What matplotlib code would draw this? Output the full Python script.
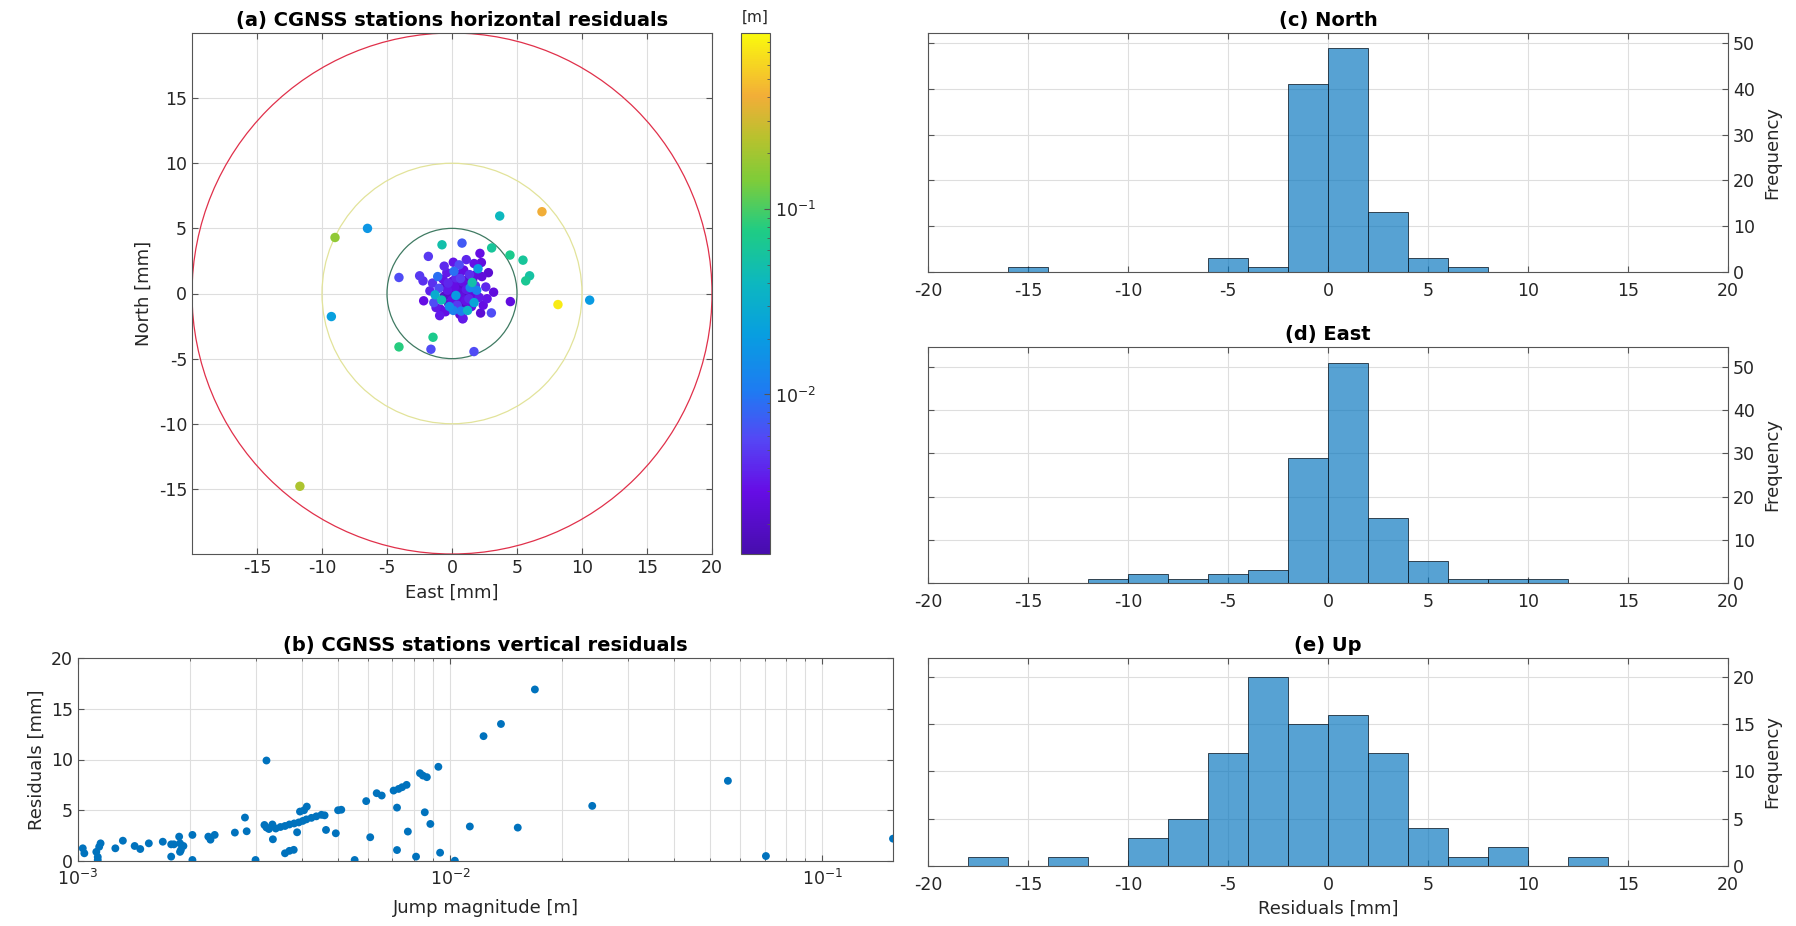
import numpy as np
import matplotlib
matplotlib.use("Agg")
import matplotlib.pyplot as plt
from matplotlib.colors import LinearSegmentedColormap, LogNorm
from matplotlib.patches import Circle
from matplotlib.ticker import FixedLocator, LogLocator, NullFormatter

plt.rcParams['font.family'] = ['DejaVu Sans']
plt.rcParams['axes.unicode_minus'] = False

# ---------------- data ----------------
# (a) horizontal residuals [mm] and jump magnitude [m]
east = [6.92, 3.67, -6.5, -9.0, -0.77, 0.77, 3.05, 4.46, 5.46, 5.97, 5.67, -1.82, 2.15, 2.26,
        -4.08, -2.49, -2.23, 8.15, 10.59, -9.28, -2.18, -1.23, 4.49, 3.03, 0.82, -1.46, -4.08,
        -1.62, 1.69, -11.7,
        0.2, 0.5, -0.3, 0.8, 1.1, -0.6, 0.0, 0.4, 1.3, -1.0, -1.3, -0.8, 0.6, 0.9, 0.3, -0.4,
        1.6, 1.8, 1.5, 0.1, -0.2, 0.7, 1.0, 0.25, -0.1, 0.45, 1.25, 0.75, 2.3, 2.6, 2.1, 2.4,
        3.2, 2.8, 2.0, -1.5, -1.1, -0.7, -1.7, -0.5, 0.6, 1.2, 1.7, 0.9, 0.35, -0.25, 1.45,
        0.05, 0.55, 1.1, 0.1, -0.6, 1.7, 1.9, 0.15, 0.85, -0.9, 1.35, 0.65, -0.15, 0.95, 1.65,
        0.3, -0.35, 1.55, 2.2, 1.05, 0.45, -1.4, -0.95, 0.75, 0.2, 1.2, 0.55, -0.05, 1.85,
        0.7, -0.55, 1.4, 0.1, 2.7, 0.95]
north = [6.28, 5.95, 5.0, 4.3, 3.74, 3.87, 3.5, 2.95, 2.56, 1.36, 0.97, 2.85, 3.08, 2.38,
         1.23, 1.36, 0.97, -0.85, -0.51, -1.77, -0.56, -1.08, -0.62, -1.49, -1.95, -3.36, -4.1,
         -4.28, -4.46, -14.8,
         0.5, 0.1, 0.8, 0.9, 0.3, -0.2, -0.5, -0.9, -0.4, 0.4, -0.1, -0.5, 1.5, 1.8, 1.2, 1.6,
         1.1, 0.6, -1.0, -1.3, -1.0, -0.3, 1.0, 0.2, 0.1, 0.75, 0.7, 0.45, 1.3, 0.5, -0.3, -0.9,
         0.1, 1.6, 1.9, 0.8, 1.3, 1.1, 0.2, -1.4, -1.6, -1.3, -0.7, -0.8, -0.4, -0.8, 0.15,
         0.95, 2.2, 2.6, 2.4, 2.1, 2.3, 0.25, 1.7, -1.9, -1.2, 1.45, 1.15, 0.45, -0.05, -0.15,
         -0.15, 0.25, 0.85, -1.5, -0.55, -1.15, -0.7, -1.7, 0.05, -0.7, -0.85, 0.35, -0.25, 1.45,
         -1.35, 0.55, 0.45, 0.7, -0.4, 0.6]
jump_h = [0.40, 0.04, 0.018, 0.17, 0.05, 0.007, 0.06, 0.07, 0.06, 0.055, 0.065, 0.005, 0.003, 0.0028,
          0.006, 0.005, 0.0045, 0.75, 0.02, 0.022, 0.003, 0.0035, 0.0028, 0.006, 0.0032, 0.07, 0.08,
          0.006, 0.006, 0.22,
          0.003, 0.0025, 0.004, 0.003, 0.0035, 0.002, 0.003, 0.005, 0.004, 0.006, 0.03, 0.045,
          0.0025, 0.003, 0.004, 0.0035, 0.002, 0.005, 0.003, 0.012, 0.015, 0.0028, 0.0022, 0.0018,
          0.0016, 0.002, 0.0024, 0.0021, 0.0026, 0.004, 0.0035, 0.003, 0.0027, 0.0023, 0.02, 0.0045,
          0.009, 0.0032, 0.0038, 0.003, 0.0025, 0.035, 0.025, 0.0019, 0.0017, 0.0022, 0.0021,
          0.0026, 0.006, 0.004, 0.0033, 0.0041, 0.0031, 0.012, 0.009, 0.0036, 0.0029, 0.0044,
          0.0052, 0.0023, 0.0018, 0.0027, 0.02, 0.0034, 0.05, 0.0024, 0.0031, 0.0026, 0.006,
          0.0035, 0.0015, 0.0019, 0.0022, 0.0017, 0.0021, 0.0028, 0.011, 0.0024, 0.013, 0.0029,
          0.0033, 0.002]
circle_radii = [5, 10, 20]
circle_colors = ['#3f7a62', '#e2e39a', '#e0304a']
cbar_range = [0.00138, 0.89]

# (b) vertical residuals
jump_v = [1.03e-3, 1.04e-3, 1.12e-3, 1.13e-3, 1.13e-3, 1.14e-3, 1.15e-3, 1.26e-3, 1.32e-3,
          1.42e-3, 1.47e-3, 1.55e-3, 1.69e-3, 1.78e-3, 1.78e-3, 1.81e-3, 1.87e-3, 1.88e-3,
          1.89e-3, 1.92e-3, 1.88e-3, 2.03e-3, 2.03e-3, 2.24e-3, 2.27e-3, 2.33e-3, 2.64e-3,
          2.81e-3, 2.84e-3, 3.0e-3, 3.21e-3, 3.17e-3, 3.21e-3, 3.26e-3, 3.33e-3, 3.40e-3, 3.50e-3,
          3.60e-3, 3.70e-3, 3.81e-3, 3.92e-3, 4.02e-3, 4.11e-3, 4.24e-3, 4.37e-3, 4.51e-3, 4.60e-3,
          3.34e-3, 3.6e-3, 3.7e-3, 3.8e-3, 3.88e-3, 3.95e-3, 4.05e-3, 4.12e-3, 4.64e-3, 4.93e-3,
          5.0e-3, 5.1e-3, 5.54e-3, 5.95e-3, 6.1e-3, 6.35e-3, 6.55e-3, 7.05e-3, 7.27e-3, 7.43e-3,
          7.64e-3, 7.2e-3, 7.2e-3, 7.7e-3, 8.1e-3, 8.3e-3, 8.45e-3, 8.66e-3, 8.55e-3, 8.85e-3,
          9.3e-3, 9.4e-3, 1.03e-2, 1.13e-2, 1.23e-2, 1.37e-2, 1.69e-2, 1.52e-2, 2.41e-2, 5.58e-2,
          7.06e-2, 0.155]
resid_v = [1.25, 0.76, 0.9, 0.4, 0.1, 1.4, 1.74, 1.25, 2.0,
           1.48, 1.18, 1.74, 1.9, 0.43, 1.64, 1.64, 2.4, 1.74,
           1.08, 1.48, 0.9, 0.1, 2.57, 2.4, 2.1, 2.57, 2.8,
           4.28, 2.93, 0.1, 9.9, 3.55, 3.3, 3.15, 3.6, 3.2, 3.35,
           3.45, 3.6, 3.7, 3.8, 3.95, 4.1, 4.25, 4.4, 4.55, 4.5,
           2.14, 0.76, 1.0, 1.1, 2.83, 4.87, 5.0, 5.36, 3.06, 2.73,
           5.0, 5.05, 0.1, 5.9, 2.34, 6.68, 6.45, 6.94, 7.1, 7.27,
           7.5, 5.26, 1.08, 2.9, 0.43, 8.65, 8.42, 8.26, 4.8, 3.65,
           9.28, 0.82, 0.03, 3.4, 12.3, 13.5, 16.9, 3.29, 5.43, 7.9,
           0.49, 2.2]

# (c)-(e) histograms
hist_edges = list(range(-20, 21, 2))
north_counts = [0, 0, 1, 0, 0, 0, 0, 3, 1, 41, 49, 13, 3, 1, 0, 0, 0, 0, 0, 0]
east_counts = [0, 0, 0, 0, 1, 2, 1, 2, 3, 29, 51, 15, 5, 1, 1, 1, 0, 0, 0, 0]
up_counts = [0, 1, 0, 1, 0, 3, 5, 12, 20, 15, 16, 12, 4, 1, 2, 0, 1, 0, 0, 0]
hist_ylims = [52.2, 54.6, 22.0]
hist_yticks = [[0, 10, 20, 30, 40, 50], [0, 10, 20, 30, 40, 50], [0, 5, 10, 15, 20]]

# ---------------- style ----------------
W, H = 1796, 926
fig = plt.figure(figsize=(W / 100, H / 100), dpi=100)
spine_col = '#555555'
grid_col = '#dedede'
tick_fs = 12.5
lab_fs = 13
title_fs = 14

def rect(x0, y0, x1, y1):
    return [x0 / W, 1 - y1 / H, (x1 - x0) / W, (y1 - y0) / H]

def style(ax):
    for s in ax.spines.values():
        s.set_color(spine_col)
        s.set_linewidth(0.8)
    ax.tick_params(which='both', direction='in', top=True, right=True,
                   color=spine_col, labelsize=tick_fs, labelcolor='#262626')
    ax.tick_params(which='major', length=4)
    ax.tick_params(which='minor', length=2)
    ax.set_axisbelow(True)

parula_like = LinearSegmentedColormap.from_list('parula_like', [
    (0.00, (0.28, 0.05, 0.68)),
    (0.12, (0.40, 0.05, 0.90)),
    (0.22, (0.33, 0.28, 0.96)),
    (0.31, (0.12, 0.48, 0.95)),
    (0.42, (0.03, 0.62, 0.88)),
    (0.52, (0.05, 0.72, 0.75)),
    (0.62, (0.12, 0.80, 0.52)),
    (0.72, (0.50, 0.80, 0.22)),
    (0.80, (0.72, 0.76, 0.18)),
    (0.88, (0.95, 0.68, 0.22)),
    (1.00, (0.98, 0.98, 0.05)),
])

# ---------------- (a) ----------------
axa = fig.add_axes(rect(192, 33, 712, 554))
style(axa)
axa.grid(True, color=grid_col, linewidth=0.8)
for r, c in zip(circle_radii, circle_colors):
    axa.add_patch(Circle((0, 0), r, fill=False, edgecolor=c, linewidth=0.9, zorder=2))
norm = LogNorm(vmin=cbar_range[0], vmax=cbar_range[1])
order = np.argsort(jump_h)
sc = axa.scatter(np.array(east)[order], np.array(north)[order], c=np.array(jump_h)[order],
                 cmap=parula_like, norm=norm, s=46, edgecolors='none', zorder=3)
axa.set_xlim(-20, 20)
axa.set_ylim(-20, 20)
axa.set_xticks([-15, -10, -5, 0, 5, 10, 15, 20])
axa.set_yticks([-15, -10, -5, 0, 5, 10, 15])
axa.set_xlabel('East [mm]', fontsize=lab_fs, labelpad=5, color='#262626')
axa.set_ylabel('North [mm]', fontsize=lab_fs, labelpad=4, color='#262626')
axa.set_title('(a) CGNSS stations horizontal residuals', fontsize=title_fs,
              fontweight='bold', pad=5)

cax = fig.add_axes(rect(741, 33, 770, 554))
cb = fig.colorbar(sc, cax=cax)
cb.outline.set_edgecolor(spine_col)
cb.outline.set_linewidth(0.8)
cb.set_ticks([1e-2, 1e-1])
cb.ax.yaxis.set_minor_locator(LogLocator(base=10, subs=np.arange(2, 10)))
cb.ax.yaxis.set_minor_formatter(NullFormatter())
cb.ax.tick_params(which='both', direction='in', color=spine_col, labelsize=tick_fs,
                  labelcolor='#262626')
cb.ax.tick_params(which='major', length=4)
cb.ax.tick_params(which='minor', length=2)
fig.text(755 / W, 1 - 17 / H, '[m]', ha='center', va='center', fontsize=11, color='#262626')

# ---------------- (b) ----------------
axb = fig.add_axes(rect(78, 658, 893, 861))
style(axb)
axb.scatter(jump_v, resid_v, s=32, color='#0072BD', edgecolors='none', zorder=3)
axb.set_xscale('log')
axb.set_xlim(1e-3, 0.155)
axb.set_ylim(0, 20)
axb.set_yticks([0, 5, 10, 15, 20])
axb.xaxis.set_major_locator(FixedLocator([1e-3, 1e-2, 1e-1]))
axb.xaxis.set_minor_locator(LogLocator(base=10, subs=np.arange(2, 10)))
axb.xaxis.set_minor_formatter(NullFormatter())
axb.grid(True, which='both', color=grid_col, linewidth=0.8)
axb.tick_params(axis='x', pad=6)
axb.set_xlabel('Jump magnitude [m]', fontsize=lab_fs, labelpad=7, color='#262626')
axb.set_ylabel('Residuals [mm]', fontsize=lab_fs, labelpad=4, color='#262626')
axb.set_title('(b) CGNSS stations vertical residuals', fontsize=title_fs,
              fontweight='bold', pad=5)

# ---------------- (c)-(e) ----------------
hist_rects = [(928, 33, 1728, 272), (928, 347, 1728, 583), (928, 658, 1728, 866)]
hist_titles = ['(c) North', '(d) East', '(e) Up']
hist_counts = [north_counts, east_counts, up_counts]
edges = np.array(hist_edges, dtype=float)
for i in range(3):
    ax = fig.add_axes(rect(*hist_rects[i]))
    style(ax)
    ax.grid(True, color=grid_col, linewidth=0.8)
    cnt = np.array(hist_counts[i], dtype=float)
    m = cnt > 0
    ax.bar(edges[:-1][m], cnt[m], width=np.diff(edges)[m], align='edge',
           facecolor=(0.0, 0.447, 0.741, 0.66), edgecolor=(0.05, 0.1, 0.15, 0.9),
           linewidth=0.6, zorder=2)
    ax.set_xlim(-20, 20)
    ax.set_ylim(0, hist_ylims[i])
    ax.set_xticks([-20, -15, -10, -5, 0, 5, 10, 15, 20])
    ax.set_yticks(hist_yticks[i])
    ax.tick_params(axis='y', labelleft=False, labelright=True)
    ax.tick_params(axis='x', pad=7)
    ax.yaxis.set_label_position('right')
    ax.set_ylabel('Frequency', fontsize=lab_fs, labelpad=6, color='#262626')
    ax.set_title(hist_titles[i], fontsize=title_fs, fontweight='bold', pad=5)
    if i == 2:
        ax.set_xlabel('Residuals [mm]', fontsize=lab_fs, labelpad=4, color='#262626')

fig.savefig('out.png', dpi=100)
